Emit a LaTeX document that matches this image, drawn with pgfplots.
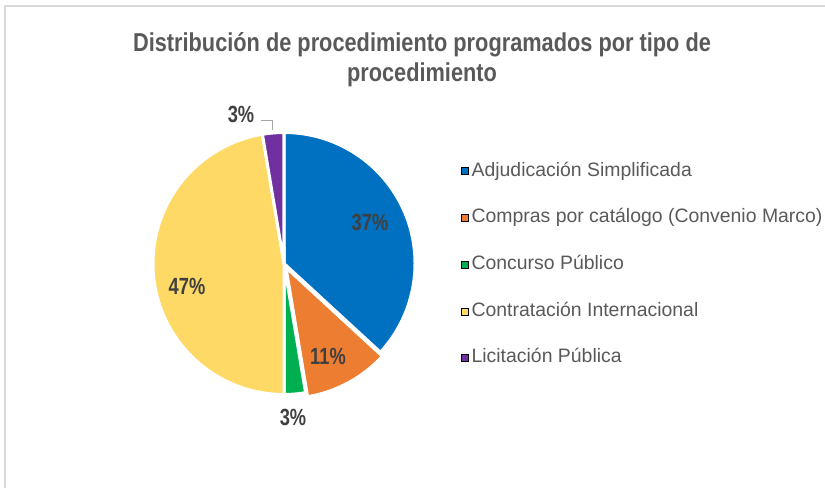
\documentclass[border=0pt]{standalone}
\usepackage{fontspec}
\setmainfont{Liberation Sans}
\newfontfamily\titlefont{Liberation Sans}[FakeStretch=0.84]
\newfontfamily\labelfont{Liberation Sans}[FakeStretch=0.78]
\usepackage{pgfplots}
\pgfplotsset{compat=1.18}

\definecolor{cBlue}{HTML}{0070C0}
\definecolor{cOrange}{HTML}{ED7D31}
\definecolor{cGreen}{HTML}{00B050}
\definecolor{cYellow}{HTML}{FFD966}
\definecolor{cPurple}{HTML}{7030A0}
\definecolor{cTitle}{HTML}{595959}
\definecolor{cLabel}{HTML}{404040}
\definecolor{cFrame}{HTML}{D9D9D9}

% number of procedures per type
\def\vA{14} % Adjudicacion Simplificada
\def\vB{4}  % Compras por catalogo
\def\vC{1}  % Concurso Publico
\def\vD{18} % Contratacion Internacional
\def\vE{1}  % Licitacion Publica

% one slice: colour, centre, start angle, end angle
\newcommand{\slice}[4]{%
  \fill[#1, draw=white, line width=3bp, line join=round]
    (axis cs:#2) -- ++(#3:131bp) arc[start angle=#3, end angle=#4, radius=131bp] -- cycle;}

\begin{document}
\begin{tikzpicture}
\pgfmathsetmacro{\tot}{\vA+\vB+\vC+\vD+\vE}
\pgfmathsetmacro{\aA}{90}
\pgfmathsetmacro{\aB}{\aA-\vA/\tot*360}
\pgfmathsetmacro{\aC}{\aB-\vB/\tot*360}
\pgfmathsetmacro{\aD}{\aC-\vC/\tot*360}
\pgfmathsetmacro{\aE}{\aD-\vD/\tot*360}
\pgfmathsetmacro{\aF}{\aE-\vE/\tot*360}
\useasboundingbox (0,0) rectangle (825bp,488bp);
\begin{axis}[
    at={(0,0)}, anchor=south west,
    width=825bp, height=488bp, scale only axis,
    xmin=0, xmax=825, ymin=0, ymax=488,
    hide axis, clip=false,
    legend image code/.code={\fill[#1] (0bp,-3.5bp) rectangle (7bp,3.5bp);},
    legend style={at={(axis cs:457.5,488-160)}, anchor=north west, draw=none, fill=none,
        font=\fontsize{19.5}{22}\selectfont, text=cTitle, row sep=28.7bp,
        nodes={inner sep=0pt, text height=14bp, text depth=4bp},
        /tikz/every even column/.append style={column sep=0pt}},
    legend cell align=left,
]
    % frame of the chart area
    \draw[cFrame, line width=1.5bp] (axis cs:5,0) -- (axis cs:5,482) -- (axis cs:825,482);

    \addlegendimage{fill=cBlue}   \addlegendentry{\hspace{3.5bp}Adjudicación Simplificada}
    \addlegendimage{fill=cOrange} \addlegendentry{\hspace{3.5bp}Compras por catálogo (Convenio Marco)}
    \addlegendimage{fill=cGreen}  \addlegendentry{\hspace{3.5bp}Concurso Público}
    \addlegendimage{fill=cYellow} \addlegendentry{\hspace{3.5bp}Contratación Internacional}
    \addlegendimage{fill=cPurple} \addlegendentry{\hspace{3.5bp}Licitación Pública}

    % slices
    \slice{cBlue}{284,224.5}{\aA}{\aB}
    \slice{cOrange}{286,220.5}{\aB}{\aC}
    \slice{cGreen}{284,224.5}{\aC}{\aD}
    \slice{cYellow}{284,224.5}{\aD}{\aE}
    \slice{cPurple}{284,224.5}{\aE}{\aF}

    % data labels
    \begin{scope}[every node/.style={font=\labelfont\bfseries\fontsize{23.5}{26}\selectfont, text=cLabel, inner sep=0pt}]
    \node at (axis cs:370,488-222) {37\%};
    \node at (axis cs:328,488-356) {11\%};
    \node at (axis cs:293,488-417) {3\%};
    \node at (axis cs:187,488-286) {47\%};
    \node at (axis cs:241,488-114) {3\%};
    \end{scope}
    \draw[gray!70, line width=1bp] (axis cs:261,488-121) -- (axis cs:272,488-121) -- (axis cs:272,488-130);

    % title
    \node[font=\titlefont\bfseries\fontsize{26}{30}\selectfont, text=cTitle, align=center, anchor=center]
        at (axis cs:422,488-60) {Distribución de procedimiento programados por tipo de\\procedimiento};
\end{axis}
\end{tikzpicture}
\end{document}
